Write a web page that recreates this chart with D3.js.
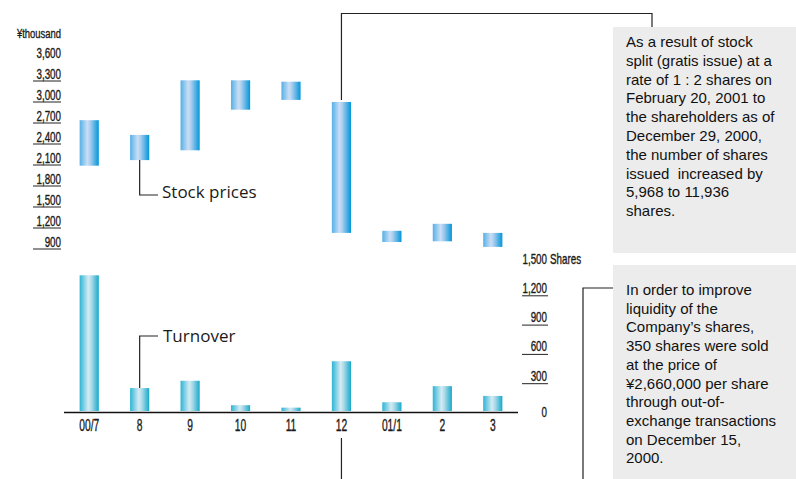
<!DOCTYPE html>
<html>
<head>
<meta charset="utf-8">
<script src="https://cdn.jsdelivr.net/npm/d3@7"></script>
<style>
  html, body { margin: 0; padding: 0; background: #fff; }
  svg { display: block; }
  .ax { font-family: "Liberation Sans", Arial, sans-serif; fill: #1a1a1a; stroke: #1a1a1a; stroke-width: 0.35; }
  .lbl { font-family: "Open Sans", "Noto Sans", sans-serif; fill: #1a1a1a; }
  .note { font-family: "Liberation Sans", Arial, sans-serif; fill: #111; white-space: pre; }
</style>
</head>
<body>
<div id="chart"></div>
<script>
// ---- data ----
const months = ["00/7", "8", "9", "10", "11", "12", "01/1", "2", "3"];
const priceHigh = [2740, 2530, 3310, 3310, 3290, 3000, 1160, 1260, 1130]; // ¥thousand
const priceLow  = [2090, 2170, 2310, 2890, 3030, 1130, 1000, 1010, 930];
const turnover  = [1410, 255, 330, 80, 55, 530, 110, 275, 175];         // shares
const priceTicks = [3600, 3300, 3000, 2700, 2400, 2100, 1800, 1500, 1200, 900];
const shareTicks = [1500, 1200, 900, 600, 300, 0];
const note1Lines = [
  "As a result of stock",
  "split (gratis issue) at a",
  "rate of 1 : 2 shares on",
  "February 20, 2001 to",
  "the shareholders as of",
  "December 29, 2000,",
  "the number of shares",
  "issued  increased by",
  "5,968 to 11,936",
  "shares."
];
const note2Lines = [
  "In order to improve",
  "liquidity of the",
  "Company\u2019s shares,",
  "350 shares were sold",
  "at the price of",
  "\u00a52,660,000 per share",
  "through out-of-",
  "exchange transactions",
  "on December 15,",
  "2000."
];

// ---- layout ----
const W = 796, H = 479;
const svg = d3.select("#chart").append("svg").attr("width", W).attr("height", H);

const x = d3.scaleBand().domain(months).range([64, 518]).paddingInner(0.62).paddingOuter(0.31);
const yP = d3.scaleLinear().domain([900, 3600]).range([249, 60]);
const yT = d3.scaleLinear().domain([0, 1500]).range([413, 266.5]);

// condensed text helper
const SX = 0.7;
function ctext(sel, px, py, sx) {
  return sel.attr("x", 0).attr("y", 0)
    .attr("transform", (d, i) => `translate(${px(d, i)},${py(d, i)}) scale(${sx},1)`);
}

// gradients
const defs = svg.append("defs");
const g1 = defs.append("linearGradient").attr("id", "gPrice");
[[0, "#55b0e6"], [0.4, "#c9def5"], [0.55, "#a9cdef"], [1, "#0096d9"]].forEach(([o, c]) =>
  g1.append("stop").attr("offset", o).attr("stop-color", c));
const g2 = defs.append("linearGradient").attr("id", "gTurn");
[[0, "#2db4d5"], [0.45, "#d3ebf3"], [0.6, "#b2dcea"], [1, "#16a9cb"]].forEach(([o, c]) =>
  g2.append("stop").attr("offset", o).attr("stop-color", c));

// note boxes
svg.append("rect").attr("x", 613).attr("y", 27).attr("width", W - 613).attr("height", 226).attr("fill", "#ececec");
svg.append("rect").attr("x", 613).attr("y", 265).attr("width", W - 613).attr("height", 214).attr("fill", "#ececec");

svg.append("g").selectAll("text").data(note1Lines).join("text")
  .attr("class", "note").attr("x", 626).attr("y", (d, i) => 47 + i * 18.8)
  .attr("font-size", 15).text(d => d);
svg.append("g").selectAll("text").data(note2Lines).join("text")
  .attr("class", "note").attr("x", 626).attr("y", (d, i) => 295 + i * 18.7)
  .attr("font-size", 15).text(d => d);

// left axis (stock price)
const left = svg.append("g");
ctext(left.append("text").attr("class", "ax").attr("text-anchor", "end").attr("font-size", 13.5),
  () => 61, () => 38, SX).text("\u00a5thousand");
ctext(left.selectAll("text.t").data(priceTicks).join("text").attr("class", "ax t")
  .attr("text-anchor", "end").attr("font-size", 14),
  () => 61, d => yP(d) - 2, SX).text(d => d3.format(",")(d));
left.selectAll("line").data(priceTicks.filter(d => d !== 3600)).join("line")
  .attr("x1", 33).attr("x2", 61).attr("y1", d => yP(d)).attr("y2", d => yP(d))
  .attr("stroke", "#222").attr("stroke-width", 1);

// right axis (shares)
const right = svg.append("g");
ctext(right.selectAll("text.t").data(shareTicks).join("text").attr("class", "ax t")
  .attr("text-anchor", "end").attr("font-size", 14),
  () => 547, d => d === 0 ? yT(d) + 4 : yT(d) - 3, SX).text(d => d3.format(",")(d));
ctext(right.append("text").attr("class", "ax").attr("font-size", 14),
  () => 550, () => yT(1500) - 3, SX).text("Shares");
right.selectAll("line").data(shareTicks.filter(d => d !== 0 && d !== 1500)).join("line")
  .attr("x1", 522).attr("x2", 548).attr("y1", d => yT(d)).attr("y2", d => yT(d))
  .attr("stroke", "#222").attr("stroke-width", 1);

// stock price bars (high-low)
svg.append("g").selectAll("rect").data(months).join("rect")
  .attr("x", d => x(d)).attr("width", x.bandwidth())
  .attr("y", (d, i) => yP(priceHigh[i]))
  .attr("height", (d, i) => yP(priceLow[i]) - yP(priceHigh[i]))
  .attr("fill", "url(#gPrice)");

// turnover bars
svg.append("g").selectAll("rect").data(months).join("rect")
  .attr("x", d => x(d)).attr("width", x.bandwidth())
  .attr("y", (d, i) => yT(turnover[i]))
  .attr("height", (d, i) => yT(0) - 2 - yT(turnover[i]))
  .attr("fill", "url(#gTurn)");

// bottom axis
svg.append("line").attr("x1", 64).attr("x2", 518).attr("y1", yT(0) - 0.5).attr("y2", yT(0) - 0.5)
  .attr("stroke", "#111").attr("stroke-width", 1.5);
ctext(svg.append("g").selectAll("text").data(months).join("text").attr("class", "ax")
  .attr("text-anchor", "middle").attr("font-size", 16),
  d => x(d) + x.bandwidth() / 2, () => 431, 0.64).text(d => d);

// leaders and labels
const cx = m => x(m) + x.bandwidth() / 2;
const ln = svg.append("g").attr("fill", "none").attr("stroke", "#222").attr("stroke-width", 1.2);
ln.append("path").attr("d", `M${cx("8")},${yP(priceLow[1])} V195 H158`);
ln.append("path").attr("d", `M${cx("8")},${yT(turnover[1])} V336 H158`);
ln.append("path").attr("d", `M${cx("12")},${yP(priceHigh[5]) - 2} V13.5 H652 V27`);
ln.append("path").attr("d", `M613,288 H583 V${H}`);
ln.append("path").attr("d", `M${cx("12")},438 V${H}`);

svg.append("text").attr("class", "lbl").attr("x", 162).attr("y", 198).attr("font-size", 17).text("Stock prices");
svg.append("text").attr("class", "lbl").attr("x", 163).attr("y", 342).attr("font-size", 17).text("Turnover");
</script>
</body>
</html>
